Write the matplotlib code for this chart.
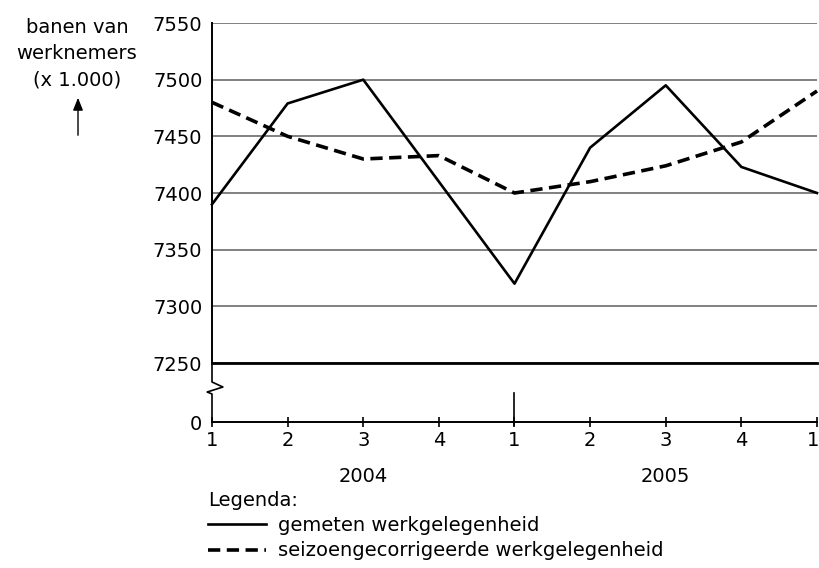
import matplotlib.pyplot as plt
import matplotlib.transforms as mtransforms
from matplotlib.patches import FancyArrowPatch

plt.rcParams['font.family'] = ['DejaVu Sans']
plt.rcParams['font.size'] = 14

kwartalen = ['1', '2', '3', '4', '1', '2', '3', '4', '1']
jaren = ['2004', '2005']
gemeten = [7390, 7479, 7500, 7410, 7320, 7440, 7495, 7423, 7400]
seizoen = [7480, 7450, 7430, 7433, 7400, 7410, 7424, 7445, 7490]
y_ticks = [7250, 7300, 7350, 7400, 7450, 7500, 7550]
labels = ['gemeten werkgelegenheid', 'seizoengecorrigeerde werkgelegenheid']

W, H = 820, 568
fig = plt.figure(figsize=(W / 100, H / 100), dpi=100)


def px(x0, y0, x1, y1):
  # pixel box (top-left origin) -> figure fraction
  return [x0 / W, 1 - y1 / H, (x1 - x0) / W, (y1 - y0) / H]


ax = fig.add_axes(px(212, 23, 817, 363))
ax2 = fig.add_axes(px(212, 363, 817, 422), sharex=ax)

x = list(range(len(kwartalen)))
l1, = ax.plot(x, gemeten, color='black', lw=1.9, clip_on=False, zorder=3)
l2, = ax.plot(x, seizoen, color='black', lw=2.6, dashes=(3.4, 1.8),
              clip_on=False, zorder=3)

ax.set_xlim(0, len(kwartalen) - 1)
ax.set_ylim(y_ticks[0], y_ticks[-1])
ax.set_yticks(y_ticks)
ax.grid(axis='y', color='#5e5e5e', lw=1.1)
ax.set_axisbelow(True)
ax.tick_params(axis='y', length=0, pad=7)
ax.tick_params(axis='x', bottom=False, labelbottom=False)
for s in ['top', 'right']:
  ax.spines[s].set_visible(False)
ax.spines['left'].set_linewidth(1.4)
ax.spines['bottom'].set_linewidth(2)

# lower part of the broken axis
ax2.set_ylim(0, 1)
ax2.set_yticks([0])
ax2.set_yticklabels(['0'])
ax2.tick_params(axis='y', length=0, pad=7)
ax2.set_xticks(x)
ax2.set_xticklabels(kwartalen)
ax2.tick_params(axis='x', direction='inout', length=7, width=1.2, pad=3)
for s in ['top', 'right', 'left']:
  ax2.spines[s].set_visible(False)
ax2.spines['bottom'].set_linewidth(1.4)
ax2.patch.set_visible(False)
# keep the last quarter label inside the picture
last = ax2.get_xticklabels()[-1]
last.set_transform(last.get_transform() +
                   mtransforms.ScaledTranslation(-4 / 100, 0, fig.dpi_scale_trans))

# left spine with the break symbol
ax2.plot([0, 0, 0.018, -0.008, 0, 0], [1, 0.678, 0.593, 0.508, 0.475, 0],
         transform=ax2.transAxes, color='black', lw=1.2, clip_on=False)
# separator between the years
ax2.axvline(4, ymin=-0.05, ymax=0.5, color='black', lw=1.2, clip_on=False)

trans = mtransforms.blended_transform_factory(ax2.transData, ax2.transAxes)
for i, jaar in enumerate(jaren):
  ax2.text(2 + 4 * i, -0.93, jaar, transform=trans, ha='center', va='center')

# y-axis caption with arrow
fig.text(77 / W, 1 - 33 / H, 'banen van', ha='center', va='baseline')
fig.text(77 / W, 1 - 59 / H, 'werknemers', ha='center', va='baseline')
fig.text(77 / W, 1 - 85 / H, '(x 1.000)', ha='center', va='baseline')
fig.add_artist(FancyArrowPatch(
  (78 / W, 1 - 138 / H), (78 / W, 1 - 95 / H), transform=fig.transFigure,
  arrowstyle='-|>,head_length=5,head_width=2', mutation_scale=1.5,
  color='black', lw=1))

leg = ax2.legend([l1, l2], labels, loc='upper left',
                 bbox_to_anchor=(208 / W, 1 - 491 / H),
                 bbox_transform=fig.transFigure, title='Legenda:',
                 alignment='left', frameon=False, handlelength=3.0,
                 handletextpad=0.6, borderpad=0, borderaxespad=0,
                 labelspacing=0.35, title_fontsize=14)
leg._legend_box.sep = 4

plt.savefig('out.png', dpi=100)
